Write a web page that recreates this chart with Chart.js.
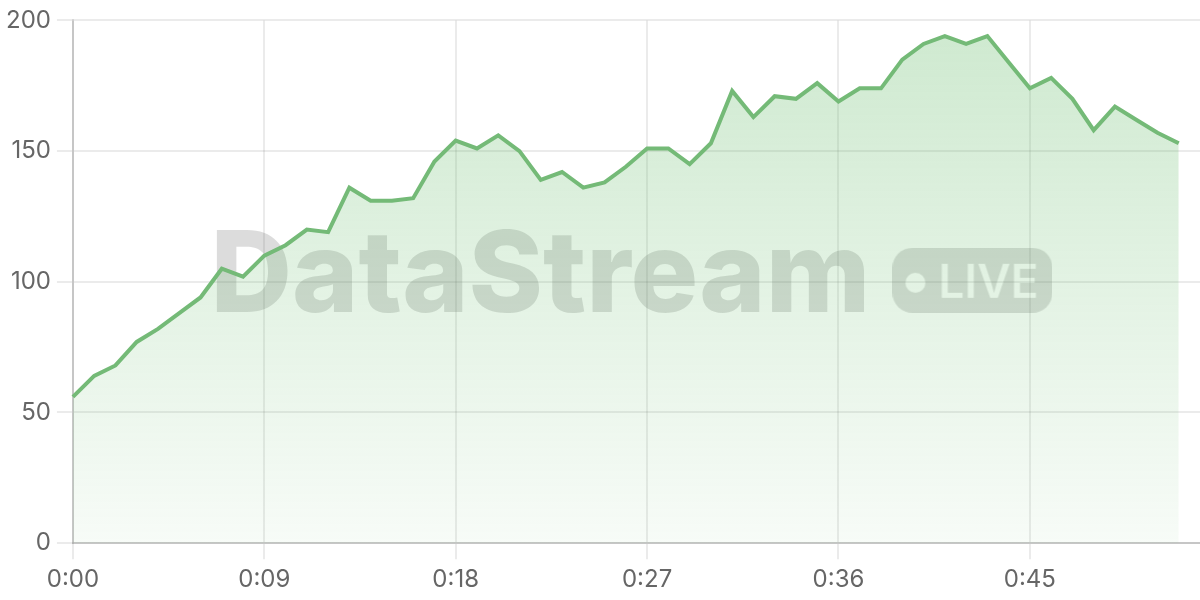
<!DOCTYPE html>
<html>
<head>
<meta charset="utf-8">
<title>DataStream live</title>
<script src="https://cdn.jsdelivr.net/npm/chart.js@4.4.1/dist/chart.umd.min.js"></script>
<style>
	html, body { margin: 0; padding: 0; background: #fff; }
	#wrap { width: 1200px; height: 600px; position: relative; }
</style>
</head>
<body>
<div id="wrap"><canvas id="stream"></canvas></div>
<script>
//Data
var timeLabels = [
	'0:00', '0:01', '0:02', '0:03', '0:04', '0:05', '0:06', '0:07', '0:08', '0:09',
	'0:10', '0:11', '0:12', '0:13', '0:14', '0:15', '0:16', '0:17', '0:18', '0:19',
	'0:20', '0:21', '0:22', '0:23', '0:24', '0:25', '0:26', '0:27', '0:28', '0:29',
	'0:30', '0:31', '0:32', '0:33', '0:34', '0:35', '0:36', '0:37', '0:38', '0:39',
	'0:40', '0:41', '0:42', '0:43', '0:44', '0:45', '0:46', '0:47', '0:48', '0:49',
	'0:50', '0:51', '0:52', '0:53'
];
var streamValues = [
	56, 64, 68, 77, 82, 88, 94, 105, 102, 110,
	114, 120, 119, 136, 131, 131, 132, 146, 154, 151,
	156, 150, 139, 142, 136, 138, 144, 151, 151, 145,
	153, 173, 163, 171, 170, 176, 169, 174, 174, 185,
	191, 194, 191, 194, 184, 174, 178, 170, 158, 167,
	162, 157, 153
];
var yTicks = [0, 50, 100, 150, 200];
var labelEvery = 9;

var GREEN = 'rgb(116,186,119)';
var GRID = 'rgba(0,0,0,0.08)';
var BORDER = 'rgba(0,0,0,0.16)';
var MARK = 'rgba(60,60,60,0.18)';

//Watermark, drawn under the line
var watermarkPlugin = {
	id: 'watermark',
	beforeDatasetsDraw: function (chart) {
		var ctx = chart.ctx;
		var area = chart.chartArea;
		var cx = (area.left + area.right) / 2 - 5;
		var cy = (area.top + area.bottom) / 2;

		ctx.save();
		ctx.font = '800 100px Inter';
		var size = 100 * 660 / ctx.measureText('DataStream').width;
		ctx.font = '800 ' + size + 'px Inter';
		var wordW = ctx.measureText('DataStream').width;
		var badgeW = 160, badgeH = 65, gap = 22;
		var x0 = cx - (wordW + gap + badgeW) / 2;

		ctx.fillStyle = MARK;
		ctx.textBaseline = 'alphabetic';
		ctx.fillText('DataStream', x0, cy + 30);

		//badge with the dot and text knocked out
		var badge = document.createElement('canvas');
		badge.width = badgeW;
		badge.height = badgeH;
		var b = badge.getContext('2d');
		b.fillStyle = MARK;
		b.beginPath();
		b.roundRect(0, 0, badgeW, badgeH, 20);
		b.fill();
		b.globalCompositeOperation = 'destination-out';
		b.fillStyle = '#000';
		b.beginPath();
		b.arc(23, 35, 10, 0, Math.PI * 2);
		b.fill();
		b.font = '600 46px Inter';
		b.fillText('LIVE', 46, 50);

		ctx.drawImage(badge, x0 + wordW + gap, cy - 34);
		ctx.restore();
	}
};

//Fill gradient follows the chart area
function areaFill(context) {
	var area = context.chart.chartArea;
	if (!area) {
		return 'rgba(102,187,106,0.2)';
	}
	var g = context.chart.ctx.createLinearGradient(0, area.top, 0, area.bottom);
	g.addColorStop(0, 'rgba(102,187,106,0.32)');
	g.addColorStop(1, 'rgba(102,187,106,0.05)');
	return g;
}

function everyNth(ctx) {
	return ctx.index % labelEvery === 0 ? GRID : 'transparent';
}

Chart.defaults.font.family = 'Inter, "Noto Sans", sans-serif';
Chart.defaults.font.size = 24;
Chart.defaults.color = '#666';

new Chart(document.getElementById('stream'), {
	type: 'line',
	data: {
		labels: timeLabels,
		datasets: [{
			data: streamValues,
			borderColor: GREEN,
			borderWidth: 4,
			backgroundColor: areaFill,
			fill: 'origin',
			tension: 0,
			pointRadius: 0,
			pointHoverRadius: 0
		}]
	},
	options: {
		responsive: true,
		maintainAspectRatio: false,
		animation: false,
		layout: {
			padding: { top: 20, right: 0, bottom: 0, left: 0 }
		},
		plugins: {
			legend: { display: false },
			tooltip: { enabled: false }
		},
		scales: {
			x: {
				offset: false,
				grid: {
					color: everyNth,
					lineWidth: 2,
					tickLength: 16
				},
				border: { color: BORDER, width: 2 },
				ticks: {
					autoSkip: false,
					maxRotation: 0,
					minRotation: 0,
					padding: 0,
					font: { lineHeight: 1.7 },
					callback: function (v, i) {
						return i % labelEvery === 0 ? timeLabels[i] : '';
					}
				}
			},
			y: {
				min: yTicks[0],
				max: yTicks[yTicks.length - 1],
				grid: {
					color: GRID,
					lineWidth: 2,
					tickLength: 16
				},
				border: { color: BORDER, width: 2 },
				ticks: {
					stepSize: yTicks[1] - yTicks[0],
					padding: 6
				}
			}
		}
	},
	plugins: [watermarkPlugin]
});
</script>
</body>
</html>
